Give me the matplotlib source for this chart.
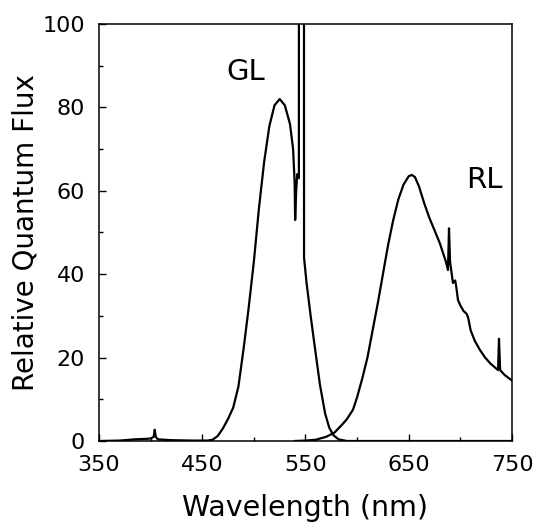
#!/usr/bin/env python3
"""Relative quantum flux of the green (GL) and red (RL) lamps."""
import matplotlib
matplotlib.use("Agg")
import matplotlib.pyplot as plt

# green lamp spectrum (nm, relative flux)
gl_wl = [350, 370, 385, 395, 400, 403, 404, 405, 407, 420, 440, 455, 460,
         465, 470, 475, 480, 485, 490, 495, 500, 505, 510, 515, 520, 525,
         530, 535, 538, 539.5, 540, 541, 542, 543.6, 543.8, 548.4, 548.6,
         551, 555, 559, 564, 569, 573, 577, 582, 590, 750]
gl_flux = [0, 0.1, 0.4, 0.5, 0.6, 1.0, 2.7, 1.0, 0.4, 0.2, 0.1, 0.1, 0.3,
           1.2, 3.0, 5.3, 8.0, 13, 22, 32, 43, 56, 67, 75.5, 80.5, 82,
           80.5, 76, 70, 62, 53, 60, 64, 63, 300, 300, 44,
           38, 30, 22.6, 13.5, 6.6, 3.2, 1.4, 0.4, 0, 0]

# red lamp spectrum
rl_wl = [540, 550, 560, 570, 578, 585, 590, 596, 600, 605, 610, 615, 620,
         625, 630, 635, 640, 645, 650, 653, 656, 660, 665, 670, 675, 680,
         686, 688, 689, 690, 692.8, 695, 696, 697.7, 700, 703, 706, 707.5,
         710, 714, 719, 724, 729, 736.5, 737.4, 738.5, 743, 750]
rl_flux = [0, 0.1, 0.3, 1.0, 2.0, 3.8, 5.2, 7.5, 10.5, 15, 20, 26.5, 33,
           40, 47, 53, 58, 61.5, 63.5, 63.8, 63.3, 61, 57, 53.5, 50.5, 47.5,
           43, 41, 51, 43, 37.9, 38.5, 37, 33.8, 32.5, 31.2, 30.5, 29.6,
           26.5, 24, 21.8, 20, 18.6, 17, 24.5, 17, 15.8, 14.5]

x_major = [350, 450, 550, 650, 750]
x_minor = [400, 500, 600, 700]
y_major = [0, 20, 40, 60, 80, 100]
y_minor = [10, 30, 50, 70, 90]

plt.rcParams.update({
    "font.family": "DejaVu Sans",
    "axes.linewidth": 1.1,
})

fig = plt.figure(figsize=(5.35, 5.27), dpi=100)
ax = fig.add_axes([0.185, 0.1632, 0.772, 0.7913])

ax.plot(gl_wl, gl_flux, color="black", linewidth=1.6)
ax.plot(rl_wl, rl_flux, color="black", linewidth=1.6)

ax.set_xlim(350, 750)
ax.set_ylim(0, 100)
ax.set_xticks(x_major)
ax.set_xticks(x_minor, minor=True)
ax.set_yticks(y_major)
ax.set_yticks(y_minor, minor=True)
ax.tick_params(which="both", direction="in", width=1.0, labelsize=16, pad=10)
ax.tick_params(which="major", length=5)
ax.tick_params(which="minor", length=3)

ax.set_xlabel("Wavelength (nm)", fontsize=20.5, labelpad=14)
ax.set_ylabel("Relative Quantum Flux", fontsize=20, labelpad=2)

ax.text(492, 88.5, "GL", fontsize=21, ha="center", va="center")
ax.text(723, 62.5, "RL", fontsize=21, ha="center", va="center")

fig.savefig("out.png", dpi=100)
